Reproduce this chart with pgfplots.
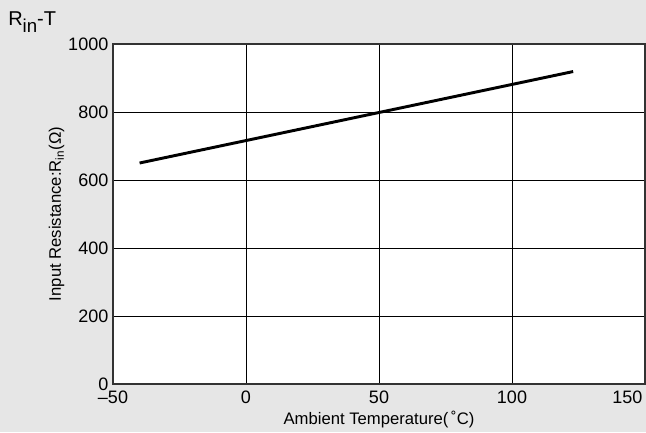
\documentclass[border=0pt]{standalone}
\usepackage{fontspec}
\setmainfont{Liberation Sans}
\usepackage{pgfplots}
\pgfplotsset{compat=1.18}
\definecolor{bg}{RGB}{230,230,230}
\definecolor{frame}{RGB}{51,51,51}
\begin{document}
\begin{tikzpicture}
\fill[bg] (0pt,0pt) rectangle (484.5pt,324pt);
\useasboundingbox (0pt,0pt) rectangle (484.5pt,324pt);
\node[anchor=base west,font=\fontsize{15}{18}\selectfont,inner sep=0] at (6pt,304.5pt)
  {R\raisebox{-5pt}{\fontsize{14}{14}\selectfont in}-T};
\begin{axis}[
    at={(84.75pt,36pt)}, anchor=south west,
    scale only axis, width=399pt, height=255pt,
    xmin=-50, xmax=150, ymin=0, ymax=1000,
    xtick={-50,0,...,150}, ytick={0,200,...,1000},
    xticklabels={–50,0,50,100,\llap{150\hspace{2pt}}},
    axis background/.style={fill=white},
    axis line style={frame, line width=1.5pt},
    grid=major, major grid style={black, line width=0.6pt},
    major tick length=0pt,
    tick label style={font=\fontsize{13.5}{15}\selectfont},
    xticklabel style={yshift=-2pt},
    /pgf/number format/assume math mode=true,
    /pgf/number format/1000 sep={},
    xlabel={Ambient Temperature(\,˚C)},
    ylabel={Input Resistance:R\textsubscript{in}(Ω)},
    label style={font=\fontsize{12.5}{14}\selectfont},
    xlabel shift=-1.5pt, ylabel shift=-4pt,
]
\addplot[black, line width=2.2pt] coordinates {(-40,650) (123,919)};
\end{axis}
\end{tikzpicture}
\end{document}
